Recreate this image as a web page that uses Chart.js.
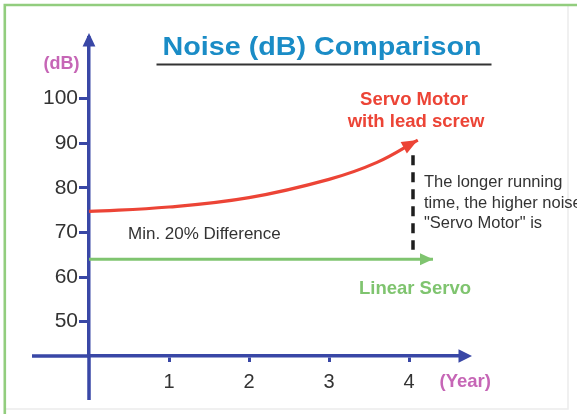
<!DOCTYPE html>
<html>
<head>
<meta charset="utf-8">
<style>
  html, body { margin: 0; padding: 0; background: #ffffff; }
  #wrap { width: 577px; height: 414px; }
</style>
<script src="https://cdn.jsdelivr.net/npm/chart.js@4/dist/chart.umd.min.js"></script>
</head>
<body>
<div id="wrap"><canvas id="c" width="577" height="414"></canvas></div>
<script>
// ---- data ----
const servoYears  = [0, 1, 2, 3, 3.6, 4.11];
const servoNoise  = [74.7, 75.7, 77.8, 81.9, 85.7, 90.7];
const linearYears = [0, 1, 2, 3, 4, 4.3];
const linearNoise = [64, 64, 64, 64, 64, 64];
const noteYears   = [4.05, 4.05];
const noteNoise   = [87.3, 66.1];
const xTickValues = [1, 2, 3, 4];
const yTickValues = [50, 60, 70, 80, 90, 100];

const titleText   = 'Noise (dB) Comparison';
const yUnitLabel  = '(dB)';
const xUnitLabel  = '(Year)';
const servoLabel  = ['Servo Motor', 'with lead screw'];
const linearLabel = 'Linear Servo';
const diffLabel   = 'Min. 20% Difference';
const noteLabel   = ['The longer running', 'time, the higher noise', '"Servo Motor" is'];

// ---- styles ----
const FONT = '"Liberation Sans", Arial, sans-serif';
const AXIS_BLUE = '#3947a6';
const RED = '#ec4436';
const GREEN = '#7fc46f';
const MAGENTA = '#c666b6';
const TITLE_BLUE = '#1a8cc6';
const TEXT = '#333333';

const pts = (xs, ys) => xs.map((x, i) => ({ x: x, y: ys[i] }));

function arrowHead(ctx, tipX, tipY, dx, dy, len, half, color) {
  const l = Math.hypot(dx, dy) || 1;
  const ux = dx / l, uy = dy / l;
  const bx = tipX - ux * len, by = tipY - uy * len;
  ctx.beginPath();
  ctx.moveTo(tipX, tipY);
  ctx.lineTo(bx - uy * half, by + ux * half);
  ctx.lineTo(bx + uy * half, by - ux * half);
  ctx.closePath();
  ctx.fillStyle = color;
  ctx.fill();
}

const decor = {
  id: 'decor',
  beforeDraw(chart) {
    const ctx = chart.ctx;
    ctx.save();
    ctx.fillStyle = '#ffffff';
    ctx.fillRect(0, 0, chart.width, chart.height);
    // faint outer frame
    ctx.strokeStyle = '#ececec';
    ctx.lineWidth = 1.5;
    ctx.beginPath();
    ctx.moveTo(568, 6); ctx.lineTo(568, 409); ctx.lineTo(5, 409);
    ctx.stroke();
    ctx.strokeStyle = '#92cd7e';
    ctx.lineWidth = 2.6;
    ctx.beginPath();
    ctx.moveTo(4.8, 414); ctx.lineTo(4.8, 5); ctx.lineTo(577, 5);
    ctx.stroke();
    ctx.restore();
  },
  afterDatasetsDraw(chart) {
    const ctx = chart.ctx;
    const xs = chart.scales.x, ys = chart.scales.y;
    const area = chart.chartArea;
    ctx.save();
    // axis extensions + arrowheads
    ctx.strokeStyle = AXIS_BLUE;
    ctx.lineWidth = 3.5;
    const x0 = xs.getPixelForValue(0);
    const yAxisPix = ys.getPixelForValue(ys.min);
    ctx.beginPath();
    ctx.moveTo(x0, area.bottom);
    ctx.lineTo(x0, ys.getPixelForValue(32.45));
    ctx.moveTo(area.left, yAxisPix);
    ctx.lineTo(xs.getPixelForValue(-0.7125), yAxisPix);
    ctx.moveTo(x0, area.top);
    ctx.lineTo(x0, ys.getPixelForValue(112.5));
    ctx.moveTo(area.right, yAxisPix);
    ctx.lineTo(xs.getPixelForValue(4.7), yAxisPix);
    ctx.stroke();
    arrowHead(ctx, x0, ys.getPixelForValue(114.7), 0, -1, 13.5, 6.4, AXIS_BLUE);
    arrowHead(ctx, xs.getPixelForValue(4.7875), yAxisPix, 1, 0, 13.5, 6.7, AXIS_BLUE);

    // arrowheads on the series
    [[0, RED, 16, 6.5], [1, GREEN, 13, 6]].forEach(([di, col, len, half]) => {
      const meta = chart.getDatasetMeta(di);
      const n = meta.data.length;
      const p = meta.data[n - 1];
      const q = meta.data[n - 2];
      let dx = p.x - q.x, dy = p.y - q.y;
      if (p.cp1x !== undefined && Math.hypot(p.x - p.cp1x, p.y - p.cp1y) > 0.5) {
        dx = p.x - p.cp1x; dy = p.y - p.cp1y;
      }
      arrowHead(ctx, p.x, p.y, dx, dy, len, half, col);
    });
    ctx.restore();
  },
  afterDraw(chart) {
    const ctx = chart.ctx;
    ctx.save();
    // title
    ctx.fillStyle = TITLE_BLUE;
    ctx.font = 'bold 25px ' + FONT;
    ctx.textAlign = 'left';
    ctx.textBaseline = 'alphabetic';
    const tw = ctx.measureText(titleText).width;
    ctx.save();
    ctx.translate(162.5, 54.5);
    ctx.scale(319 / tw, 1);
    ctx.fillText(titleText, 0, 0);
    ctx.restore();
    ctx.strokeStyle = '#333333';
    ctx.lineWidth = 2;
    ctx.beginPath();
    ctx.moveTo(156.5, 64.5); ctx.lineTo(491.5, 64.5);
    ctx.stroke();

    // unit labels
    ctx.fillStyle = MAGENTA;
    ctx.font = 'bold 18px ' + FONT;
    ctx.textAlign = 'center';
    ctx.fillText(yUnitLabel, 61.5, 69);
    ctx.font = 'bold 18.5px ' + FONT;
    ctx.textAlign = 'left';
    ctx.fillText(xUnitLabel, 439.5, 387);

    // series labels
    ctx.fillStyle = RED;
    ctx.font = 'bold 18.5px ' + FONT;
    ctx.textAlign = 'center';
    ctx.fillText(servoLabel[0], 414, 105);
    ctx.fillText(servoLabel[1], 416, 126.5);
    ctx.fillStyle = GREEN;
    ctx.font = 'bold 18.5px ' + FONT;
    ctx.fillText(linearLabel, 415, 293.5);

    // annotations
    ctx.fillStyle = TEXT;
    ctx.textAlign = 'left';
    ctx.font = '17px ' + FONT;
    ctx.fillText(diffLabel, 128, 238.5);
    ctx.font = '16.5px ' + FONT;
    noteLabel.forEach((t, i) => ctx.fillText(t, 424, 186.7 + i * 20.8));
    ctx.restore();
  }
};

new Chart(document.getElementById('c'), {
  type: 'line',
  data: {
    datasets: [
      {
        label: servoLabel.join(' '),
        data: pts(servoYears, servoNoise),
        borderColor: RED,
        borderWidth: 3.2,
        pointRadius: 0,
        tension: 0.4,
        borderCapStyle: 'butt',
        clip: false
      },
      {
        label: linearLabel,
        data: pts(linearYears, linearNoise),
        borderColor: GREEN,
        borderWidth: 3,
        pointRadius: 0,
        tension: 0,
        borderCapStyle: 'butt',
        clip: false
      },
      {
        label: 'note',
        data: pts(noteYears, noteNoise),
        borderColor: '#1e1e1e',
        borderWidth: 3.5,
        borderDash: [10, 7],
        pointRadius: 0,
        tension: 0,
        clip: false
      }
    ]
  },
  options: {
    responsive: false,
    animation: false,
    devicePixelRatio: 1,
    layout: { padding: { left: 0, top: 38, right: 111, bottom: 0 } },
    plugins: {
      legend: { display: false },
      tooltip: { enabled: false },
      title: { display: false }
    },
    scales: {
      x: {
        type: 'linear',
        position: 'bottom',
        min: 0,
        max: 4.7125,
        afterBuildTicks: s => { s.ticks = xTickValues.map(v => ({ value: v })); },
        afterFit: s => { s.height = 58; },
        grid: { display: true, drawOnChartArea: false, drawTicks: true, tickLength: 6, tickWidth: 3, tickColor: AXIS_BLUE },
        border: { display: true, color: AXIS_BLUE, width: 3.5 },
        ticks: { color: TEXT, font: { family: FONT, size: 20 }, padding: 8, maxRotation: 0, autoSkip: false }
      },
      y: {
        type: 'linear',
        position: 'left',
        min: 42.3,
        max: 113.58,
        afterBuildTicks: s => { s.ticks = yTickValues.map(v => ({ value: v })); },
        afterFit: s => { s.width = 89; },
        grid: { display: true, drawOnChartArea: false, drawTicks: true, tickLength: 10, tickWidth: 3, tickColor: AXIS_BLUE },
        border: { display: true, color: AXIS_BLUE, width: 3.5 },
        ticks: { color: TEXT, font: { family: FONT, size: 21 }, padding: 1, autoSkip: false }
      }
    }
  },
  plugins: [decor]
});
</script>
</body>
</html>
